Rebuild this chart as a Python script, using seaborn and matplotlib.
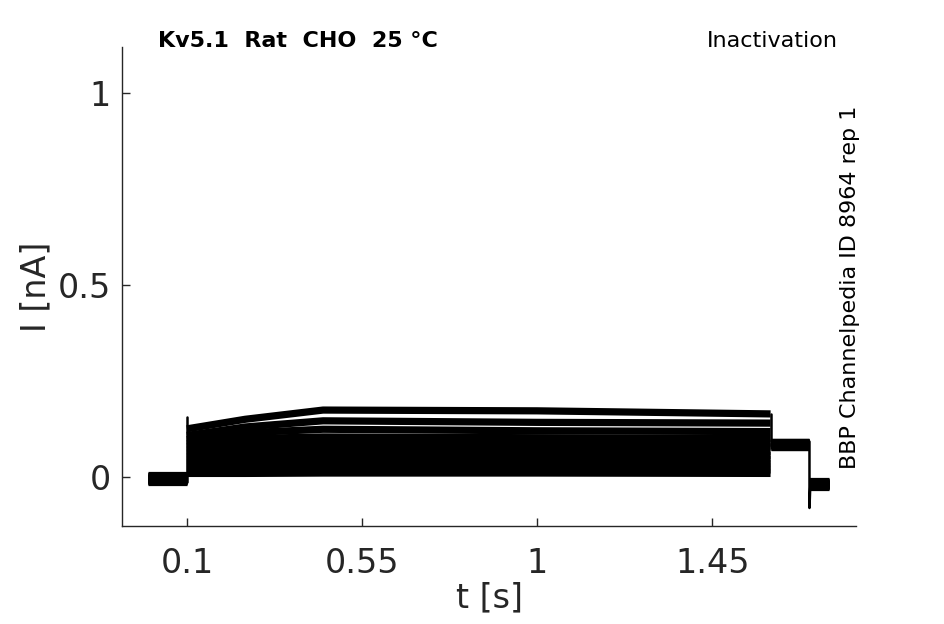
import numpy as np
import pandas as pd
import matplotlib
matplotlib.use("Agg")
import matplotlib.pyplot as plt
import seaborn as sns

# time knots [s] of the protocol
t_pre = [0.0, 0.1]
t_step = [0.1, 0.25, 0.45, 1.0, 1.6]
t_test = [1.6, 1.7]
t_tail = [1.7, 1.75]

# prepulse current of each sweep [nA], read at t_step
lvl_start = [0.125, 0.108, 0.097, 0.087, 0.079, 0.070, 0.062, 0.053, 0.045, 0.036, 0.027, 0.018, 0.009]
lvl_025 = [0.150, 0.130, 0.115, 0.100, 0.088, 0.077, 0.067, 0.056, 0.046, 0.037, 0.027, 0.018, 0.009]
lvl_045 = [0.174, 0.146, 0.124, 0.104, 0.090, 0.080, 0.068, 0.057, 0.047, 0.037, 0.028, 0.019, 0.010]
lvl_100 = [0.172, 0.142, 0.120, 0.102, 0.090, 0.080, 0.068, 0.057, 0.047, 0.037, 0.028, 0.019, 0.010]
lvl_160 = [0.164, 0.140, 0.118, 0.100, 0.088, 0.078, 0.066, 0.056, 0.046, 0.036, 0.027, 0.018, 0.009]

# holding, test pulse and tail currents of each sweep [nA]
lvl_hold = [-0.013, -0.010, -0.007, -0.004, -0.001, 0.002, 0.005, -0.012, -0.008, -0.005, -0.002, 0.001, -0.006]
lvl_test = [0.092, 0.090, 0.088, 0.086, 0.084, 0.082, 0.080, 0.078, 0.091, 0.087, 0.083, 0.079, 0.085]
lvl_tail = [-0.012, -0.014, -0.016, -0.018, -0.020, -0.022, -0.024, -0.026, -0.013, -0.017, -0.021, -0.025, -0.019]

# capacitive transients [nA]
spike_on = 0.155
spike_off = -0.081

rows = []
for i in range(len(lvl_start)):
    segs = [
        list(zip(t_pre, [lvl_hold[i]] * 2)),
        list(zip(t_step, [lvl_start[i], lvl_025[i], lvl_045[i], lvl_100[i], lvl_160[i]])),
        list(zip(t_test, [lvl_test[i]] * 2)),
        list(zip(t_tail, [lvl_tail[i]] * 2)),
    ]
    for j, seg in enumerate(segs):
        for t, v in seg:
            rows.append({"unit": f"{i}_{j}", "t": t, "I": v})
df = pd.DataFrame(rows)

# thin vertical transitions
jumps = pd.DataFrame({
    "unit": ["on", "on", "mid", "mid", "off", "off", "off"],
    "t": [t_step[0], t_step[0], t_test[0], t_test[0], t_tail[0], t_tail[0], t_tail[0] + 0.002],
    "I": [min(lvl_hold), spike_on, min(lvl_test), max(lvl_160), max(lvl_test), spike_off, min(lvl_tail)],
})

sns.set_theme(style="ticks")
plt.rcParams["font.family"] = ["DejaVu Sans"]
plt.rcParams["text.color"] = "#262626"

fig = plt.figure(figsize=(9.45, 6.24), dpi=100)
ax = fig.add_axes([0.129, 0.157, 0.777, 0.768])

sns.lineplot(data=df, x="t", y="I", units="unit", estimator=None, sort=False,
             color="black", linewidth=5.2, solid_capstyle="butt", ax=ax)
sns.lineplot(data=jumps, x="t", y="I", units="unit", estimator=None, sort=False,
             color="black", linewidth=1.8, ax=ax)

ax.set_xlim(-0.067, 1.82)
ax.set_ylim(-0.128, 1.12)
ax.set_xticks([0.1, 0.55, 1, 1.45])
ax.set_xticklabels(["0.1", "0.55", "1", "1.45"])
ax.set_yticks([0, 0.5, 1])
ax.set_yticklabels(["0", "0.5", "1"])
ax.tick_params(direction="in", length=6, width=1, labelsize=24, colors="#262626")
ax.tick_params(axis="x", pad=15)
ax.tick_params(axis="y", pad=8)
ax.set_xlabel("t [s]", fontsize=24, color="#262626", labelpad=1)
ax.set_ylabel("I [nA]", fontsize=24, color="#262626", labelpad=4)
for s in ["top", "right"]:
    ax.spines[s].set_visible(False)
for s in ["left", "bottom"]:
    ax.spines[s].set_color("#262626")
    ax.spines[s].set_linewidth(1)

fig.text(0.167, 0.925, "Kv5.1  Rat  CHO  25 °C", fontsize=16, fontweight="bold",
         color="black", ha="left", va="baseline")
fig.text(0.887, 0.925, "Inactivation", fontsize=16, color="black", ha="right", va="baseline")
fig.text(0.899, 0.54, "BBP Channelpedia ID 8964 rep 1", fontsize=16, color="black",
         rotation=90, ha="center", va="center")

fig.savefig("out.png", dpi=100)
